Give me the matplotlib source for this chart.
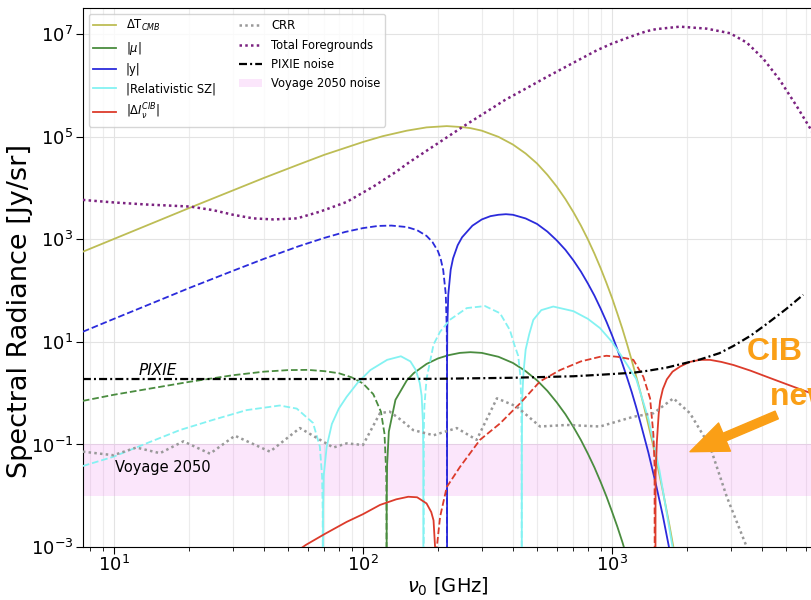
import numpy as np
import matplotlib
matplotlib.use("Agg")
import matplotlib.pyplot as plt
from matplotlib.ticker import LogLocator, FixedLocator, LogFormatterSciNotation, NullLocator, NullFormatter
from matplotlib.patches import Patch, FancyArrowPatch, ArrowStyle
from matplotlib.lines import Line2D

# ---------------- data (frequency in GHz, radiance in Jy/sr) ----------------
nu_dT = [7.5, 10, 15, 20, 30, 40, 55, 70, 100, 120, 150, 180, 217, 250, 270, 300, 350,
         400, 450, 500, 550, 600, 650, 700, 750, 800, 850, 900, 950, 1000, 1050, 1100,
         1150, 1200, 1250, 1300, 1350, 1400, 1450, 1500, 1600, 1700, 1800]
dT = [5.75e2, 1.02e3, 2.29e3, 4.07e3, 9.0e3, 1.58e4, 2.87e4, 4.47e4, 7.94e4, 1.03e5,
      1.32e5, 1.53e5, 1.62e5, 1.55e5, 1.48e5, 1.32e5, 1.0e5, 7.08e4, 4.73e4, 3.02e4,
      1.82e4, 1.07e4, 6.10e3, 3.39e3, 1.86e3, 1.0e3, 528, 2.75e2, 141, 72.4, 36.1, 18.2,
      8.95, 4.37, 2.15, 1.05, 0.504, 0.24, 0.115, 0.055, 0.0123, 2.69e-3, 5.75e-4]

nu_mu_neg = [7.5, 10, 20, 30, 40, 50, 60, 70, 80, 90, 100, 110, 118, 122, 124, 124.3, 124.4]
mu_neg = [0.708, 0.933, 1.66, 2.24, 2.63, 2.82, 2.85, 2.69, 2.45, 2.04, 1.55, 0.955,
          0.437, 0.162, 0.0269, 6.8e-3, 1e-9]
nu_mu_pos = [124.4, 124.5, 125, 127, 135, 150, 160, 180, 200, 220, 245, 270, 300, 350,
             400, 450, 500, 550, 600, 650, 700, 750, 800, 850, 900, 950, 1000, 1050, 1100,
             1200]
mu_pos = [1e-9, 6.8e-3, 0.0407, 0.178, 0.741, 1.78, 2.47, 3.72, 4.76, 5.50, 6.11, 6.31,
          6.11, 5.13, 3.89, 2.69, 1.78, 1.11, 0.661, 0.388, 0.219, 0.122, 0.0661, 0.0356,
          0.0186, 9.66e-3, 4.9e-3, 2.51e-3, 1.26e-3, 3.1e-4]

nu_y_neg = [7.5, 10, 15, 20, 30, 40, 55, 70, 85, 100, 115, 130, 150, 165, 180, 190, 200,
            205, 210, 215, 217, 217.4, 217.5]
y_neg = [15.8, 28.2, 63.1, 112, 243, 417, 731, 1.07e3, 1.40e3, 1.66e3, 1.83e3, 1.86e3,
         1.74e3, 1.51e3, 1.17e3, 891, 589, 422, 251, 85.1, 17.8, 3.55, 1e-9]
nu_y_pos = [217.5, 217.6, 218, 220, 225, 230, 240, 250, 275, 300, 325, 350, 375, 400, 450,
            500, 550, 600, 650, 700, 750, 800, 850, 900, 950, 1000, 1050, 1100, 1150, 1200,
            1250, 1300, 1400, 1500, 1600, 1800]
y_pos = [1e-9, 3.55, 17.8, 83.2, 256, 427, 769, 1.10e3, 1.85e3, 2.45e3, 2.84e3, 3.02e3,
         3.10e3, 3.02e3, 2.56e3, 2.0e3, 1.42e3, 955, 625, 389, 236, 138, 80, 44.7, 24.8,
         13.5, 7.23, 3.80, 2.0, 1.05, 0.536, 0.269, 0.0692, 0.0169, 4.07e-3, 2.19e-4]

nu_rsz_1 = [7.5, 9.94, 13.5, 18.4, 25.0, 34.1, 46.3, 54.2, 63.0, 67.1, 68.5, 68.9, 69.0]
rsz_1 = [0.038, 0.0575, 0.105, 0.191, 0.302, 0.468, 0.575, 0.501, 0.263, 0.0912, 0.024,
         5.0e-3, 1e-9]
nu_rsz_2 = [69.0, 69.1, 69.5, 71.5, 75, 80, 86, 95, 107, 125, 142, 155, 163, 169, 172,
            174, 174.7, 175]
rsz_2 = [1e-9, 5.0e-3, 0.024, 0.0912, 0.251, 0.501, 0.851, 1.58, 2.82, 4.47, 5.25, 4.17,
         2.82, 1.58, 0.891, 0.282, 0.063, 1e-9]
nu_rsz_3 = [175, 175.5, 176.5, 180, 192, 204, 223, 261, 309, 355, 389, 405, 420, 428,
            432, 433.7, 434]
rsz_3 = [1e-9, 0.191, 0.575, 1.91, 8.91, 15.8, 26.9, 45.7, 50.1, 36.3, 17.0, 8.91, 5.37,
         2.29, 0.794, 0.0794, 1e-9]
nu_rsz_4 = [434, 434.3, 436, 441, 450, 465, 483, 520, 581, 700, 800, 895, 1000, 1100,
            1250, 1400, 1550, 1750, 1850]
rsz_4 = [1e-9, 0.0794, 0.794, 2.51, 7.08, 14.1, 26.9, 41.7, 49.0, 39.8, 28.2, 18.6, 10.0,
         5.01, 1.91, 0.316, 0.0316, 1.0e-3, 2.5e-4]

nu_cib_1 = [45, 50, 59, 70, 86, 100, 117, 136, 152, 165, 180, 188, 192, 195, 196]
cib_1 = [3.2e-4, 6.3e-4, 1.1e-3, 1.78e-3, 3.09e-3, 4.37e-3, 6.61e-3, 8.51e-3, 9.55e-3,
         9.33e-3, 7.08e-3, 4.79e-3, 3.31e-3, 8.9e-4, 1e-9]
nu_cib_2 = [196, 198, 204, 217, 245, 295, 355, 427, 514, 618, 750, 895, 950, 1050, 1140,
            1218, 1336, 1422, 1466, 1482, 1489]
cib_2 = [1e-9, 1.0e-3, 3.89e-3, 0.0148, 0.0363, 0.123, 0.257, 0.631, 1.70, 2.82, 4.17,
         5.13, 5.37, 5.13, 4.79, 4.47, 2.09, 0.794, 0.158, 0.0398, 1e-9]
nu_cib_3 = [1489, 1496, 1514, 1540, 1560, 1600, 1660, 1750, 1877, 2050, 2255, 2475, 2750,
            3072, 3600, 4180, 5000, 6295, 8000]
cib_3 = [1e-9, 0.0251, 0.112, 0.398, 0.708, 1.20, 1.86, 2.63, 3.31, 4.07, 4.47, 4.47,
         4.07, 3.55, 2.75, 2.09, 1.51, 1.0, 0.631]

nu_crr = [7.5, 9.94, 12.3, 15.3, 19.0, 24.3, 30.6, 42.3, 55.8, 76.0, 86.0, 100, 117, 128,
          142, 159, 192, 238, 286, 345, 414, 514, 658, 895, 1218, 1467, 1764, 2056, 2475,
          2890, 3476, 4000]
crr = [0.0724, 0.0617, 0.0871, 0.0676, 0.115, 0.0661, 0.148, 0.0724, 0.209, 0.0871,
       0.105, 0.0977, 0.407, 0.437, 0.302, 0.191, 0.151, 0.209, 0.123, 0.794, 0.550,
       0.224, 0.240, 0.224, 0.347, 0.407, 0.794, 0.407, 0.0912, 9.55e-3, 1.0e-3, 1.58e-4]

nu_fg = [7.5, 10, 13.5, 20.2, 25, 30.1, 36.2, 43.7, 54.3, 67.1, 86, 110, 136, 154, 200,
         252, 300, 372, 450, 548, 700, 871, 1000, 1181, 1377, 1500, 1874, 2400, 2978, 3476,
         4040, 4700, 5530, 6240, 7520]
fg = [5.89e3, 5.25e3, 4.79e3, 4.37e3, 3.72e3, 3.02e3, 2.57e3, 2.45e3, 2.57e3, 3.47e3,
      5.37e3, 1.07e4, 2.09e4, 3.24e4, 7.5e4, 1.58e5, 2.7e5, 5.25e5, 8.7e5, 1.48e6, 2.79e6,
      4.90e6, 6.6e6, 8.91e6, 1.15e7, 1.26e7, 1.41e7, 1.29e7, 1.05e7, 6.9e6, 3.39e6,
      1.32e6, 3.89e5, 1.48e5, 2.8e4]

nu_pixie = [7.5, 100, 200, 400, 700, 900, 1218, 1400, 1659, 2265, 2700, 3070, 3600, 4180,
            5000, 5860]
pixie = [1.89, 1.89, 1.91, 2.0, 2.14, 2.29, 2.51, 2.75, 3.16, 4.57, 6.03, 8.32, 13.2, 22.4,
         43.7, 83.2]

voyage_low, voyage_high = 1e-2, 1e-1

# ---------------- styles ----------------
c_dT = '#bdbd55'
c_mu = '#4a8c3f'
c_y = '#2b2bdb'
c_rsz = '#84f2f2'
c_cib = '#dc3b2b'
c_crr = '#999999'
c_fg = '#7b2280'
c_or = '#FA9F16'
lw = 1.3
dot = (0, (1, 1.3))
dashdot = (0, (3.6, 1.4, 0.9, 1.4))

fig = plt.figure(figsize=(8.11, 6.0), dpi=100)
ax = fig.add_axes([83 / 811, 53 / 600, 730 / 811, 539 / 600])
ax.set_xscale('log')
ax.set_yscale('log')
ax.set_xlim(7.51, 6414)
ax.set_ylim(1e-3, 3.26e7)

ax.axhspan(voyage_low, voyage_high, color='violet', alpha=0.2, lw=0, zorder=1)

ax.plot(nu_dT, dT, color=c_dT, lw=lw, zorder=3)
ax.plot(nu_mu_neg, mu_neg, color=c_mu, lw=lw, ls='--', zorder=3)
ax.plot(nu_mu_pos, mu_pos, color=c_mu, lw=lw, zorder=3)
ax.plot(nu_y_neg, y_neg, color=c_y, lw=lw, ls='--', zorder=3)
ax.plot(nu_y_pos, y_pos, color=c_y, lw=lw, zorder=3)
ax.plot(nu_rsz_1, rsz_1, color=c_rsz, lw=lw, ls='--', zorder=3)
ax.plot(nu_rsz_2, rsz_2, color=c_rsz, lw=lw, zorder=3)
ax.plot(nu_rsz_3, rsz_3, color=c_rsz, lw=lw, ls='--', zorder=3)
ax.plot(nu_rsz_4, rsz_4, color=c_rsz, lw=lw, zorder=3)
ax.plot(nu_cib_1, cib_1, color=c_cib, lw=lw, zorder=3)
ax.plot(nu_cib_2, cib_2, color=c_cib, lw=lw, ls='--', zorder=3)
ax.plot(nu_cib_3, cib_3, color=c_cib, lw=lw, zorder=3)
ax.plot(nu_crr, crr, color=c_crr, lw=1.8, ls=dot, zorder=3)
ax.plot(nu_fg, fg, color=c_fg, lw=1.8, ls=dot, zorder=3)
ax.plot(nu_pixie, pixie, color='black', lw=1.6, ls=dashdot, zorder=4)

ax.text(12.5, 2.3, 'PIXIE', style='italic', fontsize=11, zorder=5)
ax.text(10.1, 0.029, 'Voyage 2050', fontsize=10.5, zorder=5)

# ticks / grid
ax.xaxis.set_major_locator(LogLocator(base=10))
ax.xaxis.set_minor_locator(LogLocator(base=10, subs=np.arange(2, 10)))
ax.xaxis.set_major_formatter(LogFormatterSciNotation())
ax.xaxis.set_minor_formatter(NullFormatter())
ax.yaxis.set_major_locator(FixedLocator([1e-3, 1e-1, 1e1, 1e3, 1e5, 1e7]))
ax.yaxis.set_major_formatter(LogFormatterSciNotation())
ax.yaxis.set_minor_locator(NullLocator())
ax.tick_params(which='major', length=5, width=0.8, labelsize=13, pad=2)
ax.tick_params(axis='x', which='major', pad=1)
ax.tick_params(which='minor', length=3, width=0.6)
ax.set_axisbelow(True)
ax.grid(True, which='major', color='#e3e3e3', lw=0.8)
ax.grid(True, which='minor', axis='x', color='#ececec', lw=0.8)

ax.set_xlabel(r'$\nu_0$ [GHz]', fontsize=14, labelpad=0)
ax.set_ylabel('Spectral Radiance [Jy/sr]', fontsize=19.5)
ax.yaxis.set_label_coords(-0.069, 0.438)

handles = [
    Line2D([], [], color=c_dT, lw=lw),
    Line2D([], [], color=c_mu, lw=lw),
    Line2D([], [], color=c_y, lw=lw),
    Line2D([], [], color=c_rsz, lw=lw),
    Line2D([], [], color=c_cib, lw=lw),
    Line2D([], [], color=c_crr, lw=1.8, ls=dot),
    Line2D([], [], color=c_fg, lw=1.8, ls=dot),
    Line2D([], [], color='black', lw=1.6, ls=dashdot),
    Patch(facecolor='violet', alpha=0.2, lw=0),
]
labels = [r'$\Delta$T$_{CMB}$', r'|$\mu$|', '|y|', '|Relativistic SZ|',
          r'$|\Delta I_{\nu}^{CIB}|$', 'CRR', 'Total Foregrounds', 'PIXIE noise',
          'Voyage 2050 noise']
leg = ax.legend(handles, labels, ncol=2, loc='upper left', fontsize=8.3,
                borderaxespad=0.5, handlelength=2.0, columnspacing=2.0,
                labelspacing=0.55)
leg.set_zorder(6)

# orange overlay annotation
fig.text(747 / 811, (600 - 360) / 600, 'CIB could be', color=c_or, fontsize=23,
         fontweight='bold', family='Liberation Sans', va='baseline', ha='left')
fig.text(770 / 811, (600 - 405) / 600, 'new physics', color=c_or, fontsize=23,
         fontweight='bold', family='Liberation Sans', va='baseline', ha='left')
arrow = FancyArrowPatch((776.7 / 811, (600 - 415) / 600), (690 / 811, (600 - 451.7) / 600),
                        transform=fig.transFigure,
                        arrowstyle=ArrowStyle.Simple(head_length=2.7, head_width=2.2,
                                                     tail_width=0.6),
                        mutation_scale=10, color=c_or, shrinkA=0, shrinkB=0, zorder=10)
fig.patches.append(arrow)

fig.savefig('out.png', dpi=100)
